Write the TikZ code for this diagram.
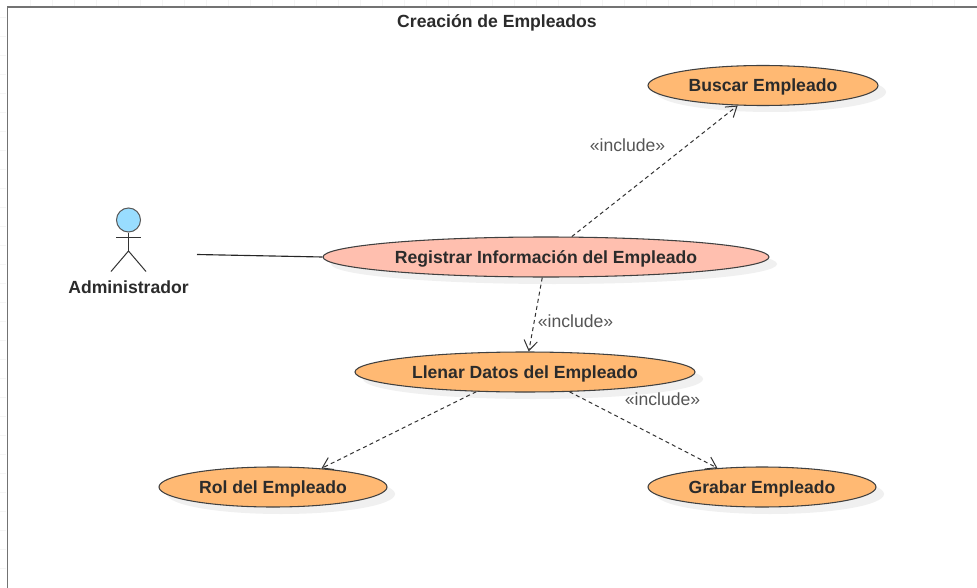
\documentclass[tikz,border=0pt]{standalone}
\usepackage{fontspec}
\setmainfont{Liberation Sans}
\usetikzlibrary{shapes.geometric,arrows.meta}
\definecolor{ucfill}{HTML}{FFB973}
\definecolor{ucpink}{HTML}{FFBFAF}
\definecolor{headblue}{HTML}{99DDFF}
\definecolor{txt}{HTML}{2B2B2B}
\definecolor{lbl}{HTML}{555555}
\definecolor{shade}{HTML}{F0F0F0}
\tikzset{
  x=0.75pt,y=-0.75pt,
  boldtext/.style={font=\bfseries\fontsize{13.2pt}{15pt}\selectfont,text=txt},
  usecase/.style={ellipse,draw=black!75,line width=0.8pt,fill=ucfill,inner sep=0pt,boldtext,text height=9pt,text depth=0pt},
  shadowell/.style={ellipse,fill=shade,inner sep=0pt},
  incl/.style={dash pattern=on 3pt off 2.4pt,draw=black!80,line width=0.75pt,
    -{Straight Barb[length=7.5pt,width=10pt,line width=0.75pt]}},
  incltext/.style={text=lbl,font=\fontsize{13.2pt}{15pt}\selectfont,inner sep=0pt},
  stick/.style={draw=black!80,line width=0.75pt},
}
\begin{document}
\begin{tikzpicture}
\useasboundingbox (0,0) rectangle (977,588);
\fill[white] (0,0) rectangle (977,588);
% faint canvas grid outside the frame
\foreach \g in {30,52,...,970}{\draw[black!4,line width=0.4pt] (\g,0) -- (\g,6);}
\foreach \g in {17,36,...,580}{\draw[black!4,line width=0.4pt] (0,\g) -- (6,\g);}
% frame
\draw[black!55,line width=1.4pt] (7.500,588) -- (7.500,7) -- (977,7);
\node[boldtext,inner sep=0pt] (title) at (497,23) {Creación de Empleados};
% shadows
\foreach \cx/\cy/\w in {771/92/230,554/264/446,533/379/340,281/494/228,770/494/228}{
  \node[shadowell,minimum width=\w*0.75pt,minimum height=30pt] at (\cx,\cy) {};
}
% use cases
\node[usecase,minimum width=172.5pt,minimum height=30pt] (buscar) at (763,85.500) {Buscar Empleado};
\node[usecase,fill=ucpink,minimum width=334.5pt,minimum height=30pt] (registrar) at (546,257) {Registrar Información del Empleado};
\node[usecase,minimum width=255pt,minimum height=30pt] (llenar) at (525,372) {Llenar Datos del Empleado};
\node[usecase,minimum width=171pt,minimum height=30pt] (rol) at (273,487) {Rol del Empleado};
\node[usecase,minimum width=171pt,minimum height=30pt] (grabar) at (762,487) {Grabar Empleado};
% actor
\node[circle,draw=black!65,line width=0.75pt,fill=headblue,minimum size=18pt,inner sep=0pt] (head) at (128.500,220) {};
\coordinate (neck) at (128.500,251);
\coordinate (armL) at (116,237.500);
\coordinate (armR) at (141,237.500);
\coordinate (footL) at (111,271.500);
\coordinate (footR) at (146,271.500);
\draw[stick] (head.south) -- (neck);
\draw[stick] (armL) -- (armR);
\draw[stick] (footL) -- (neck) -- (footR);
\node[boldtext,inner sep=0pt] (actorname) at (128.500,287) {Administrador};
% connectors
\coordinate (assoc) at (197,254.500);
\draw[black!85,line width=0.85pt] (assoc) -- (registrar.west);
\draw[incl] (registrar) -- (buscar);
\draw[incl] (registrar) -- (llenar);
\draw[incl] (llenar.202.6) -- (rol.21.5);
\draw[incl] (llenar.-24.4) -- (grabar.157);
% labels
\node[incltext] (l1) at (627.500,145.500) {«include»};
\node[incltext] (l2) at (575.500,321.500) {«include»};
\node[incltext] (l3) at (662.500,399.500) {«include»};
\end{tikzpicture}
\end{document}
